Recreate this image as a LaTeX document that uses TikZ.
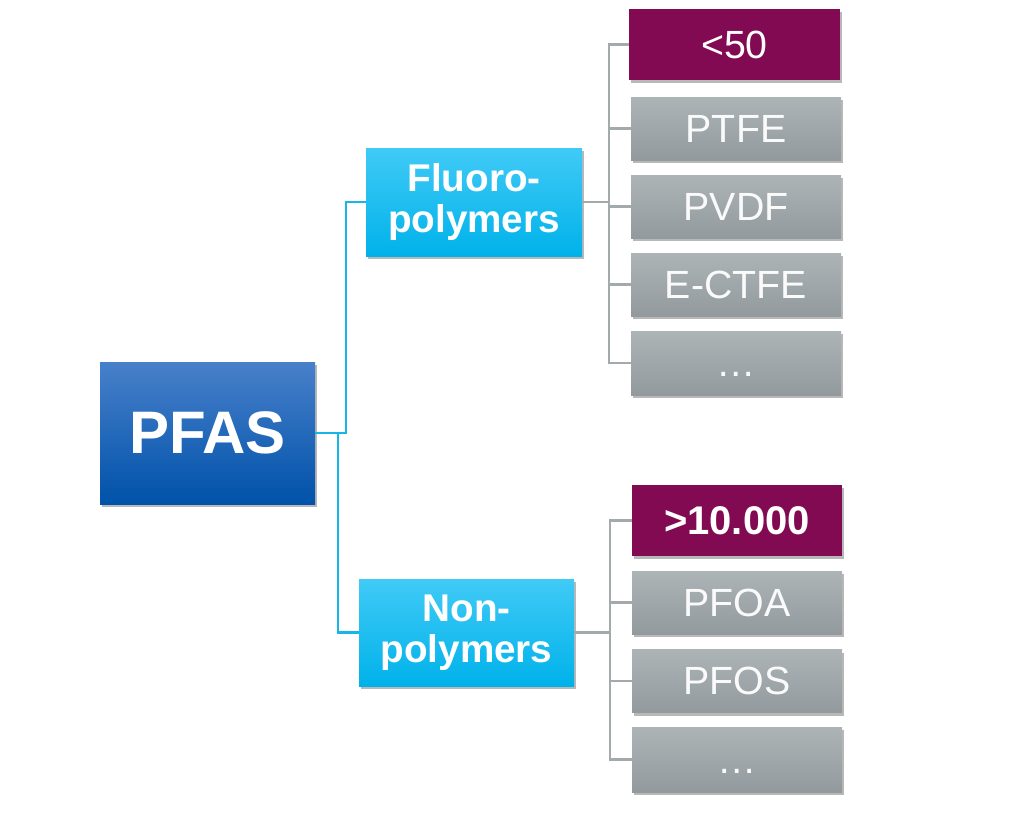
\documentclass[tikz,border=0pt]{standalone}
\usepackage{fontspec}
\setmainfont{Liberation Sans}
\usetikzlibrary{shadows}
\definecolor{pfastop}{RGB}{72,128,202}
\definecolor{pfasbot}{RGB}{0,82,170}
\definecolor{cyantop}{RGB}{64,202,246}
\definecolor{cyanbot}{RGB}{0,178,234}
\definecolor{graytop}{RGB}{172,180,182}
\definecolor{graybot}{RGB}{146,154,158}
\definecolor{plum}{RGB}{130,10,82}
\definecolor{blueline}{RGB}{24,182,232}
\definecolor{grayline}{RGB}{162,170,172}
\tikzset{
  boxbase/.style={inner sep=0pt, align=center, text=white,
    drop shadow={shadow xshift=1.5pt, shadow yshift=-2.5pt, opacity=0.28, fill=black}},
  pfasbox/.style={boxbase, top color=pfastop, bottom color=pfasbot,
    minimum width=215*0.75pt, minimum height=142*0.75pt, font=\fontsize{45}{50}\selectfont\bfseries},
  catbox/.style={boxbase, top color=cyantop, bottom color=cyanbot,
    minimum width=216*0.75pt, minimum height=108*0.75pt, font=\fontsize{29}{31}\selectfont\bfseries},
  graybox/.style={boxbase, top color=graytop, bottom color=graybot, text=white!96!gray,
    minimum width=210*0.75pt, minimum height=63*0.75pt, font=\fontsize{29.5}{32}\selectfont},
  plumbox/.style={boxbase, fill=plum,
    minimum width=211*0.75pt, minimum height=71*0.75pt},
  bline/.style={draw=blueline, line width=1.7pt},
  gline/.style={draw=grayline, line width=1.7pt}
}
\begin{document}
\begin{tikzpicture}[x=0.75pt, y=-0.75pt]
\useasboundingbox (0,0) rectangle (1024,819);
% nodes
\node[pfasbox] (pfas) at (207.5,433) {PFAS};
\node[catbox] (fluoro) at (474,202) {Fluoro-\\polymers};
\node[catbox, minimum width=215*0.75pt, minimum height=107*0.75pt] (nonpoly) at (466.5,632.5) {Non-\\polymers};

\node[plumbox, font=\fontsize{29.5}{32}\selectfont] (f0) at (734.5,44.5) {<50};
\node[graybox] (f1) at (736,128.5) {PTFE};
\node[graybox] (f2) at (736,206.5) {PVDF};
\node[graybox] (f3) at (736,284.5) {E-CTFE};
\node[graybox, minimum height=64*0.75pt] (f4) at (736,363) {\vphantom{P}…};

\node[plumbox, minimum width=210*0.75pt, font=\fontsize{30}{32}\selectfont\bfseries] (n0) at (737,520.5) {>10.000};
\node[graybox] (n1) at (737,602.5) {PFOA};
\node[graybox] (n2) at (737,681) {PFOS};
\node[graybox, minimum height=65*0.75pt] (n3) at (737,759.5) {\vphantom{P}…};

% blue connectors
\draw[bline] (pfas.east) -- ++(31,0) coordinate (bt) |- (fluoro.west);
\draw[bline] (pfas.east) -- ++(23,0) coordinate (bb) |- (nonpoly.west);
% gray connectors
\draw[gline] (fluoro.east) -- ++(27,0) coordinate (fv);
\foreach \b in {f0,f1,f2,f3,f4} \draw[gline] (fv) |- (\b.west);
\draw[gline] (nonpoly.east) -- ++(36,0) coordinate (nv);
\foreach \b in {n0,n1,n2,n3} \draw[gline] (nv) |- (\b.west);
\end{tikzpicture}
\end{document}
